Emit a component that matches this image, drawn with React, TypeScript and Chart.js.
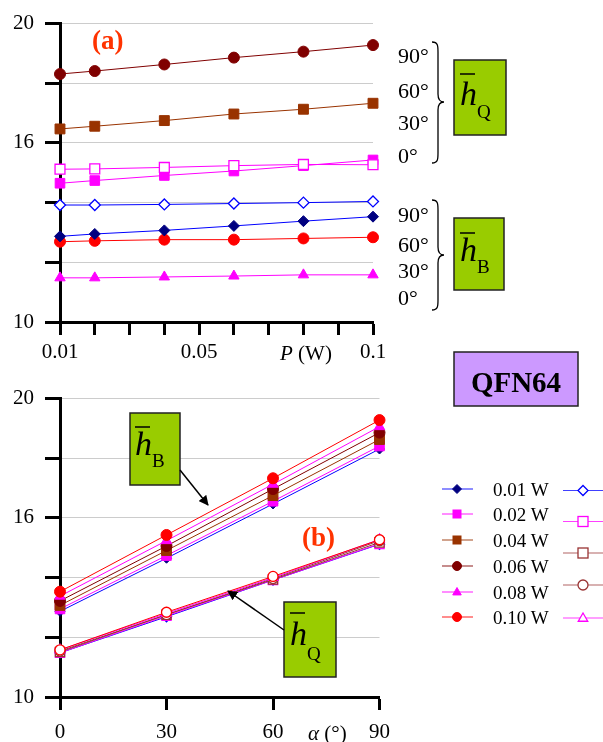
import React, { useEffect, useRef } from 'react';
import { Chart, registerables } from 'chart.js';
Chart.register(...registerables);

const SERIF = '"Liberation Serif", "Times New Roman", serif';

// ---- data ----
const powers = [0.01, 0.02, 0.04, 0.06, 0.08, 0.1];
const powerLabels = ['0.01 W', '0.02 W', '0.04 W', '0.06 W', '0.08 W', '0.10 W'];
const angles = [0, 30, 60, 90];
const angleTickLabels = ['0°', '30°', '60°', '90°'];
const pTickLabels = ['0.01', '0.05', '0.1'];
const yTickLabels = [10, 16, 20];

// h_B and h_Q versus P, for each angle
const hB_0 = [12.87, 12.95, 13.07, 13.22, 13.38, 13.53];
const hB_30 = [14.65, 14.74, 14.91, 15.06, 15.24, 15.43];
const hB_60 = [16.47, 16.56, 16.75, 16.97, 17.13, 17.33];
const hB_90 = [18.31, 18.41, 18.63, 18.86, 19.06, 19.28];
const hQ_0 = [11.48, 11.48, 11.51, 11.54, 11.58, 11.58];
const hQ_30 = [12.69, 12.72, 12.76, 12.76, 12.8, 12.84];
const hQ_60 = [13.92, 13.92, 13.94, 13.97, 14.0, 14.04];
const hQ_90 = [15.12, 15.13, 15.18, 15.24, 15.28, 15.27];

const hB_byAngle = [hB_0, hB_30, hB_60, hB_90];
const hQ_byAngle = [hQ_0, hQ_30, hQ_60, hQ_90];

// ---- styles ----
type Sty = { m: string; c: string; l: string; r: number };
const filledP: Sty[] = [
  { m: 'rectRot', c: '#000080', l: '#0000FF', r: 5 },
  { m: 'rect', c: '#FF00FF', l: '#FF00FF', r: 6.8 },
  { m: 'rect', c: '#993300', l: '#993300', r: 7 },
  { m: 'circle', c: '#800000', l: '#800000', r: 5.5 },
  { m: 'triangle', c: '#FF00FF', l: '#FF00FF', r: 6 },
  { m: 'circle', c: '#FF0000', l: '#FF0000', r: 5.5 },
];
const openP: Sty[] = [
  { m: 'rectRot', c: '#0000FF', l: '#0000FF', r: 5 },
  { m: 'rect', c: '#FF00FF', l: '#FF00FF', r: 6.5 },
  { m: 'rect', c: '#993333', l: '#993333', r: 6.5 },
  { m: 'circle', c: '#993333', l: '#993333', r: 5 },
  { m: 'triangle', c: '#FF00FF', l: '#FF00FF', r: 5.5 },
  { m: 'circle', c: '#FF0000', l: '#FF0000', r: 5 },
];

function ds(label: string, data: { x: number; y: number }[], s: Sty, open = false) {
  return {
    label,
    data,
    borderColor: s.l,
    borderWidth: 1,
    pointStyle: s.m,
    pointRadius: s.r,
    pointHoverRadius: s.r,
    pointBackgroundColor: open ? '#FFFFFF' : s.c,
    pointBorderColor: s.c,
    pointBorderWidth: open ? 1.3 : 1,
    clip: false as const,
    tension: 0,
    fill: false,
  };
}

const near = (a: number, b: number) => Math.abs(a - b) < 1e-6;

function baseOptions(xCfg: any, xHeight: number, padRight: number, xPad: number) {
  return {
    animation: false as const,
    responsive: false,
    events: [] as any[],
    plugins: { legend: { display: false }, tooltip: { enabled: false } },
    layout: { padding: { top: 20, right: padRight, left: 0, bottom: 0 } },
    scales: {
      x: {
        type: 'linear' as const,
        ...xCfg.range,
        ticks: {
          stepSize: xCfg.step,
          autoSkip: false,
          maxRotation: 0,
          callback: xCfg.cb,
          font: { family: SERIF, size: 21 },
          color: '#000',
          padding: xPad,
        },
        grid: { drawOnChartArea: false, drawTicks: true, tickLength: 13, tickColor: '#000', tickWidth: 3 },
        border: { color: '#000', width: 3 },
        afterFit: (s: any) => { s.height = xHeight; },
      },
      y: {
        min: 10,
        max: 20,
        ticks: {
          stepSize: 2,
          autoSkip: false,
          callback: (v: any) => (yTickLabels.some((t) => near(t, Number(v))) ? String(v) : ''),
          font: { family: SERIF, size: 21 },
          color: '#000',
          padding: 11,
        },
        grid: { color: '#CCCCCC', lineWidth: 1, tickLength: 15, tickColor: '#000', tickWidth: 3 },
        border: { color: '#000', width: 3 },
        afterFit: (s: any) => { s.width = 60; },
      },
    },
  };
}

function TopChart() {
  const ref = useRef<HTMLCanvasElement>(null);
  useEffect(() => {
    const pts = (arr: number[]) => powers.map((p, i) => ({ x: p, y: arr[i] }));
    const datasets = [
      ds('hB 90', pts(hB_90), { m: 'circle', c: '#800000', l: '#800000', r: 5.5 }),
      ds('hB 60', pts(hB_60), { m: 'rect', c: '#993300', l: '#993300', r: 7 }),
      ds('hQ 90', pts(hQ_90), { m: 'rect', c: '#FF00FF', l: '#FF00FF', r: 7 }, true),
      ds('hB 30', pts(hB_30), { m: 'rect', c: '#FF00FF', l: '#FF00FF', r: 6.8 }),
      ds('hQ 60', pts(hQ_60), { m: 'rectRot', c: '#0000FF', l: '#0000FF', r: 5.5 }, true),
      ds('hB 0', pts(hB_0), { m: 'rectRot', c: '#000080', l: '#0000FF', r: 5.5 }),
      ds('hQ 30', pts(hQ_30), { m: 'circle', c: '#FF0000', l: '#FF0000', r: 5.5 }),
      ds('hQ 0', pts(hQ_0), { m: 'triangle', c: '#FF00FF', l: '#FF00FF', r: 6 }),
    ];
    const chart = new Chart(ref.current!, {
      type: 'line',
      data: { datasets: datasets as any },
      options: baseOptions(
        {
          range: { min: 0.01, max: 0.1 },
          step: 0.01,
          cb: (v: any) => {
            const t = pTickLabels.find((s) => near(Number(s), Number(v)));
            return t ?? '';
          },
        },
        38,
        22,
        5
      ) as any,
    });
    return () => chart.destroy();
  }, []);
  return <canvas ref={ref} width={395} height={360} style={{ position: 'absolute', left: 0, top: 0, width: 395, height: 360 }} />;
}

function BottomChart() {
  const ref = useRef<HTMLCanvasElement>(null);
  useEffect(() => {
    const datasets: any[] = [];
    for (let i = powers.length - 1; i >= 0; i--) {
      datasets.push(ds(powerLabels[i] + ' B', angles.map((a, j) => ({ x: a, y: hB_byAngle[j][i] })), filledP[i]));
    }
    for (let i = powers.length - 1; i >= 0; i--) {
      datasets.push(ds(powerLabels[i] + ' Q', angles.map((a, j) => ({ x: a, y: hQ_byAngle[j][i] })), openP[i], true));
    }
    const chart = new Chart(ref.current!, {
      type: 'line',
      data: { datasets },
      options: baseOptions(
        {
          range: { min: 0, max: 90 },
          step: 30,
          cb: (v: any) => {
            const k = angles.findIndex((a) => near(a, Number(v)));
            return k >= 0 ? angleTickLabels[k].replace('°', '') : '';
          },
        },
        45,
        18,
        10
      ) as any,
    });
    return () => chart.destroy();
  }, []);
  return <canvas ref={ref} width={400} height={367} style={{ position: 'absolute', left: 0, top: 375, width: 400, height: 367 }} />;
}

function Marker({ s, cx, cy, size, open }: { s: Sty; cx: number; cy: number; size: number; open?: boolean }) {
  const fill = open ? '#FFFFFF' : s.c;
  const sw = open ? 1.3 : 1;
  if (s.m === 'rectRot')
    return <polygon points={`${cx - size},${cy} ${cx},${cy - size} ${cx + size},${cy} ${cx},${cy + size}`} fill={fill} stroke={s.c} strokeWidth={sw} />;
  if (s.m === 'rect') return <rect x={cx - size} y={cy - size} width={2 * size} height={2 * size} fill={fill} stroke={s.c} strokeWidth={sw} />;
  if (s.m === 'circle') return <circle cx={cx} cy={cy} r={size} fill={fill} stroke={s.c} strokeWidth={sw} />;
  return (
    <polygon
      points={`${cx},${cy - size} ${cx + size * 0.95},${cy + size * 0.65} ${cx - size * 0.95},${cy + size * 0.65}`}
      fill={fill}
      stroke={s.c}
      strokeWidth={sw}
    />
  );
}

function HBox({ x, y, w, h, sub, hx, hy, ly, sx, sy }: any) {
  return (
    <g>
      <rect x={x} y={y} width={w} height={h} fill="#99CC00" stroke="#222" strokeWidth={1.5} />
      <line x1={hx} y1={ly} x2={hx + 15} y2={ly} stroke="#000" strokeWidth={1.5} />
      <text x={hx} y={hy} fontFamily={SERIF} fontStyle="italic" fontSize={34} fill="#000">h</text>
      <text x={sx} y={sy} fontFamily={SERIF} fontSize={19} fill="#000">{sub}</text>
    </g>
  );
}

function Overlay() {
  const legendRowsL = [489, 514, 540, 566, 592, 617];
  const legendRowsR = [490.5, 521.5, 553, 585, 618];
  const braceLabelsTop = [63, 98, 130, 163];
  const braceLabelsBot = [222, 252, 278, 305];
  const bl = [...angleTickLabels].reverse();
  return (
    <svg width={603} height={742} style={{ position: 'absolute', left: 0, top: 0, pointerEvents: 'none' }}>
      <defs>
        <marker id="ah" markerWidth="10" markerHeight="10" refX="9" refY="5" orient="auto" markerUnits="userSpaceOnUse">
          <path d="M0,0 L10,5 L0,10 z" fill="#000" />
        </marker>
      </defs>
      <text x={92} y={49} fontFamily={SERIF} fontWeight="bold" fontSize={27} fill="#FF3300">(a)</text>
      <text x={302} y={546} fontFamily={SERIF} fontWeight="bold" fontSize={27} fill="#FF3300">(b)</text>

      <text x={280} y={360} fontFamily={SERIF} fontSize={21} fill="#000">
        <tspan fontStyle="italic">P</tspan> (W)
      </text>
      <text x={308} y={740} fontFamily={SERIF} fontSize={21} fill="#000">
        <tspan fontStyle="italic">α</tspan> (°)
      </text>

      {bl.map((t, i) => (
        <text key={'bt' + i} x={398} y={braceLabelsTop[i]} fontFamily={SERIF} fontSize={22} fill="#000">{t}</text>
      ))}
      {bl.map((t, i) => (
        <text key={'bb' + i} x={398} y={braceLabelsBot[i]} fontFamily={SERIF} fontSize={22} fill="#000">{t}</text>
      ))}
      <path d="M432,42 C438,42 438,46 438,52 L438,94 C438,99 440,102 444,102 C440,102 438,105 438,110 L438,153 C438,159 438,163 432,163" fill="none" stroke="#000" strokeWidth={1.3} />
      <path d="M432,200 C438,200 438,204 438,210 L438,247 C438,252 440,255 444,255 C440,255 438,258 438,263 L438,300 C438,306 438,310 432,310" fill="none" stroke="#000" strokeWidth={1.3} />

      <HBox x={454} y={60} w={52} h={75} sub="Q" hx={460} hy={105} ly={74} sx={477} sy={118} />
      <HBox x={454} y={218} w={50} h={72} sub="B" hx={460} hy={261} ly={233} sx={477} sy={273} />
      <HBox x={130} y={413} w={50} h={72} sub="B" hx={135} hy={455} ly={427} sx={152} sy={467} />
      <HBox x={284} y={602} w={52} h={75} sub="Q" hx={290} hy={645} ly={613} sx={307} sy={660} />

      <line x1={180} y1={470} x2={208} y2={505} stroke="#000" strokeWidth={1.5} markerEnd="url(#ah)" />
      <line x1={284} y1={630} x2={228} y2={591} stroke="#000" strokeWidth={1.5} markerEnd="url(#ah)" />

      <rect x={454} y={352} width={124} height={54} fill="#CC99FF" stroke="#222" strokeWidth={1.5} />
      <text x={516} y={392} textAnchor="middle" fontFamily={SERIF} fontWeight="bold" fontSize={29} fill="#000">QFN64</text>

      {powerLabels.map((lab, i) => (
        <g key={'ll' + i}>
          <line x1={442} y1={legendRowsL[i]} x2={473} y2={legendRowsL[i]} stroke={filledP[i].l} strokeWidth={1.2} opacity={0.75} />
          <Marker s={filledP[i]} cx={457} cy={legendRowsL[i]} size={filledP[i].m === 'rect' ? 4 : 4.5} />
          <text x={493} y={legendRowsL[i] + 7} fontFamily={SERIF} fontSize={19} fill="#000">{lab}</text>
        </g>
      ))}
      {legendRowsR.map((y, i) => (
        <g key={'lr' + i}>
          <line x1={563} y1={y} x2={603} y2={y} stroke={openP[i].l} strokeWidth={1.2} opacity={0.75} />
          <Marker s={openP[i]} cx={583} cy={y} size={5} open />
        </g>
      ))}
    </svg>
  );
}

export default function App() {
  return (
    <div style={{ position: 'absolute', left: 0, top: 0, width: 603, height: 742, background: '#fff', overflow: 'hidden' }}>
      <TopChart />
      <BottomChart />
      <Overlay />
    </div>
  );
}
